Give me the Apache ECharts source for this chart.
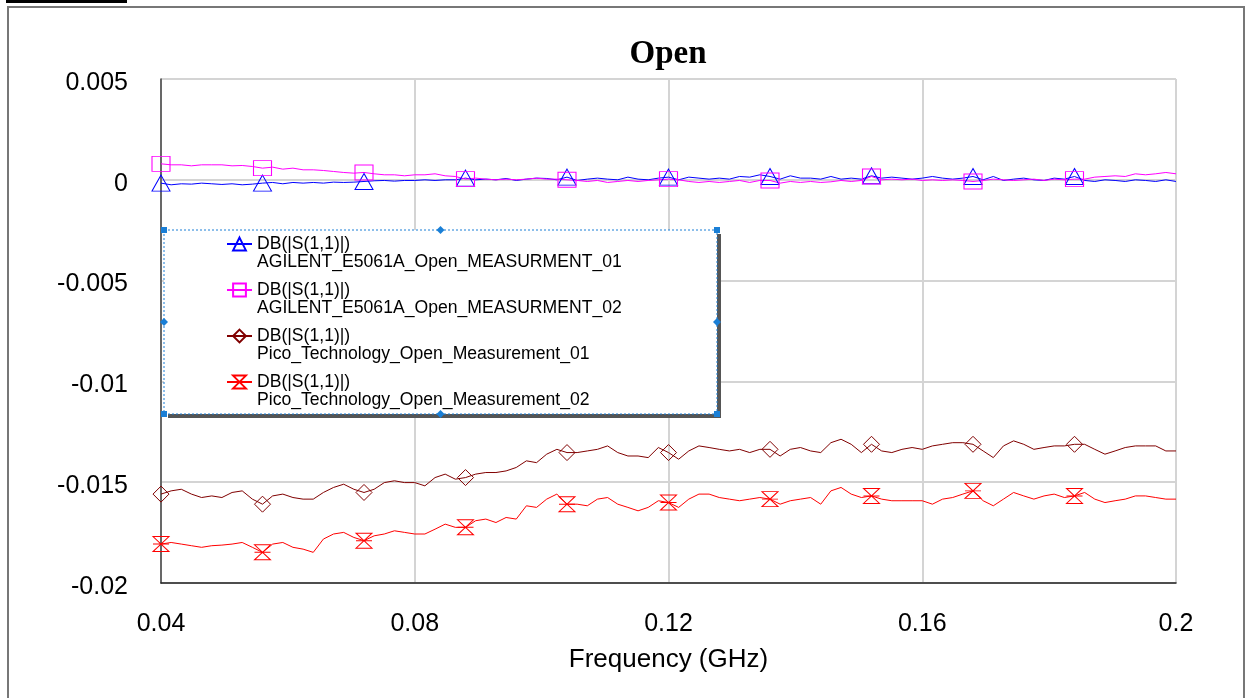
<!DOCTYPE html>
<html>
<head>
<meta charset="utf-8">
<title>Open</title>
<script src="https://cdn.jsdelivr.net/npm/echarts@6/dist/echarts.min.js"></script>
<style>
  html, body { margin: 0; padding: 0; background: #fff; }
  #chart { width: 1247px; height: 698px; }
</style>
</head>
<body>
<div id="chart"></div>
<script>
// frequency sweep, 0.04 .. 0.2 GHz, 101 points
const freqGHz = Array.from({ length: 101 }, (_, i) => +(0.04 + i * 0.0016).toFixed(4));

const xTicks = [0.04, 0.08, 0.12, 0.16, 0.2];
const yTicks = [-0.02, -0.015, -0.01, -0.005, 0, 0.005];

// DB(|S(1,1)|)
const agilent01 = [
  -0.000165, -0.000248, -0.000198, -0.000215, -0.000165, -0.000198, -0.000231, -0.000198, -0.000248, -0.000215,
  -0.000165, -0.000132, -0.000198, -0.000132, -0.000165, -0.000132, -0.000165, -0.000116, -0.000132, -0.000116,
  -0.000083, -0.00005, -0.000033, -0.000066, -0.000033, -0.000033,
  0, -0.000033, 0, 0, 0.000083, 0, 0.000033, 0, 0.000066, -0.000033, 0.000033, 0.000083, 0.000066, 0,
  0.000132, -0.000033, 0.000033, 0.000083, 0.000033, 0, 0.000132, 0.000033, 0, 0.000083, 0.000132, 0,
  0.000132, 0.000083, 0.000033, 0.000083, 0.000033, 0.000165, 0.000132, 0.000248, 0.000165, 0.000033,
  0.000198, 0.000083, 0.000083, 0.000033, 0.000165, 0.000033, 0.000083, 0.000033, 0.000198, 0.000083,
  0.000132, 0.000083, 0.000033, 0.000083, 0.000165, 0.000083,
  0.000033, 0.000083, 0.000165, 0, 0.000165, -0.000033, 0.000033, 0.000083, 0, -0.000033, 0.000083, 0.000033,
  0.000165, -0.000033, -0.000083, 0, -0.000033, -0.000083, 0, -0.000033, -0.000083, 0, -0.000083
];

const agilent02 = [
  0.000792, 0.000743, 0.000743, 0.000693, 0.000743, 0.000743, 0.000743, 0.000693, 0.00071, 0.00066,
  0.000578, 0.000627, 0.000528, 0.000578, 0.000495, 0.000495, 0.000462, 0.000413, 0.000363, 0.00033,
  0.000363, 0.000297, 0.000248, 0.000248, 0.000198, 0.000248,
  0.000248, 0.000297, 0.000198, 0.000165, 0.000033, 0.000083, 0.000033, 0, 0.000033, 0, 0.000033, 0.000083,
  0.000033, 0.000033, 0, -0.000033, -0.000083, -0.000033, -0.000132, -0.000083, -0.000033, -0.000083, -0.000033,
  0, 0.000033, 0,
  -0.000083, -0.000132, -0.000083, -0.000132, -0.000083, -0.000033, -0.000132, -0.000033, -0.000033, -0.000165,
  -0.000083, -0.000132, -0.000083, -0.000132, -0.000099, -0.000033, -0.000083, -0.000033, 0.000165, 0,
  0.000033, 0, 0.000033, -0.000033, 0, -0.000033,
  0, -0.000033, -0.000083, -0.000033, 0.000033, 0, -0.000033, 0, 0.000033, -0.000033, 0.000033, 0,
  0.000033, 0.000033, 0.000132, 0.000165, 0.000198, 0.000165, 0.000297, 0.000248, 0.000297, 0.000363, 0.000297
];

const pico01 = [
  -0.01559, -0.01543, -0.01535, -0.01559, -0.01576, -0.01568, -0.01576, -0.01551, -0.01543, -0.01584,
  -0.01609, -0.01568, -0.01559, -0.01576, -0.01584, -0.01584, -0.01551, -0.01526, -0.0151, -0.01535,
  -0.01551, -0.01535, -0.01502, -0.01493, -0.01502, -0.01502, -0.01518, -0.01477, -0.0146, -0.01485,
  -0.01477, -0.0146, -0.01452, -0.01452, -0.01444, -0.01427, -0.01394, -0.01403, -0.01361, -0.01337,
  -0.01353, -0.01353, -0.01345, -0.01337, -0.0132, -0.01353, -0.0137, -0.0137, -0.01378, -0.01328,
  -0.01353,
  -0.01386, -0.01345, -0.0132, -0.01328, -0.01337, -0.01345, -0.01337, -0.01353, -0.01337, -0.01337,
  -0.0137, -0.01337, -0.01328, -0.01345, -0.01353, -0.01304, -0.01287, -0.01312, -0.01353, -0.01312,
  -0.01345, -0.01353, -0.01337, -0.01328, -0.01337, -0.0132, -0.01312, -0.01304, -0.01304, -0.01312,
  -0.01345, -0.01378, -0.0132, -0.01295, -0.01312, -0.01337, -0.01328, -0.0132, -0.0132, -0.01312,
  -0.01312, -0.01337, -0.01361, -0.01345, -0.01328, -0.0132, -0.0132, -0.0132, -0.01345, -0.01345
];

const pico02 = [
  -0.01807, -0.01799, -0.01807, -0.01815, -0.01823, -0.01815, -0.01812, -0.01807, -0.01799, -0.01823,
  -0.01848, -0.01807, -0.01799, -0.01823, -0.01832, -0.01848, -0.01782, -0.01757, -0.01749, -0.01774,
  -0.0179, -0.01766, -0.01757, -0.01741, -0.01749, -0.01757, -0.01757, -0.01733, -0.01708, -0.01724,
  -0.01724, -0.01691, -0.01683, -0.017, -0.01675, -0.01683, -0.01617, -0.01625, -0.01584, -0.01559,
  -0.01609, -0.01609, -0.01617, -0.01584, -0.01576, -0.01609, -0.01625, -0.01642, -0.01625, -0.01592,
  -0.01601,
  -0.01625, -0.01584, -0.01559, -0.01559, -0.01576, -0.01584, -0.01592, -0.01584, -0.01576, -0.01584,
  -0.01609, -0.01592, -0.01584, -0.01576, -0.01609, -0.01543, -0.01526, -0.01559, -0.01576, -0.01568,
  -0.01584, -0.01592, -0.01592, -0.01592, -0.01592, -0.01609, -0.01584, -0.01576, -0.01559, -0.01543,
  -0.01592, -0.01617, -0.01584, -0.01551, -0.01568, -0.01584, -0.01568, -0.01559, -0.01576, -0.01568,
  -0.01551, -0.01584, -0.01601, -0.01592, -0.01584, -0.01568, -0.01568, -0.01576, -0.01584, -0.01584
];

const hourglass = "path://M0,0 L10,0 L0,10 L10,10 Z M0,5 L10,5";

const traces = [
  { name: "AGILENT_E5061A_Open_MEASURMENT_01", values: agilent01, color: "#0000ff", symbol: "triangle", size: [18, 16] },
  { name: "AGILENT_E5061A_Open_MEASURMENT_02", values: agilent02, color: "#ff00ff", symbol: "rect", size: [18, 15] },
  { name: "Pico_Technology_Open_Measurement_01", values: pico01, color: "#800000", symbol: "diamond", size: [16, 16] },
  { name: "Pico_Technology_Open_Measurement_02", values: pico02, color: "#ff0000", symbol: hourglass, size: [16, 15] },
];

const chart = echarts.init(document.getElementById("chart"));

// markers every 10th sample, none on the last point
const buildData = (values, symbol) =>
  values.map((v, i) => ({
    value: [freqGHz[i], v],
    symbol: i % 10 === 0 && i < 100 ? symbol : "none",
  }));

// legend frame with selection handles
const box = { x: 164, y: 230, w: 553, h: 184 };
const handleColor = "#1a7fd6";
const handles = [];
[[box.x, box.y], [box.x + box.w, box.y], [box.x, box.y + box.h], [box.x + box.w, box.y + box.h]].forEach(([x, y]) => {
  handles.push({ type: "rect", z: 6, shape: { x: x - 3, y: y - 3, width: 6, height: 6 }, style: { fill: handleColor } });
});
[[box.x + box.w / 2, box.y], [box.x + box.w / 2, box.y + box.h], [box.x, box.y + box.h / 2], [box.x + box.w, box.y + box.h / 2]].forEach(([x, y]) => {
  handles.push({
    type: "polygon", z: 6,
    shape: { points: [[x, y - 4], [x + 4, y], [x, y + 4], [x - 4, y]] },
    style: { fill: handleColor },
  });
});

const option = {
  animation: false,
  backgroundColor: "#fff",
  title: {
    text: "Open",
    left: 668,
    top: 38,
    padding: 0,
    textAlign: "center",
    textStyle: { fontFamily: "Liberation Serif", fontWeight: "bold", fontSize: 33, color: "#000" },
  },
  grid: {
    left: 161, right: 71, top: 79, bottom: 115,
    show: true, borderColor: "#444", borderWidth: 1,
  },
  legend: {
    z: 10,
    orient: "vertical",
    left: 226,
    top: 217,
    padding: 0,
    itemGap: -8,
    itemWidth: 25,
    itemHeight: 16,
    selectedMode: false,
    data: traces.map((t) => t.name),
    formatter: (name) => " \nDB(|S(1,1)|)\n" + name,
    textStyle: { fontFamily: "Liberation Sans", fontSize: 17.6, lineHeight: 18, color: "#000" },
  },
  xAxis: {
    type: "value",
    min: xTicks[0],
    max: xTicks[xTicks.length - 1],
    interval: 0.04,
    name: "Frequency (GHz)",
    nameLocation: "middle",
    nameGap: 64,
    nameTextStyle: { fontFamily: "Liberation Sans", fontSize: 26, color: "#000" },
    axisLine: { onZero: false, lineStyle: { color: "#222", width: 1.5 } },
    axisTick: { show: false },
    axisLabel: {
      margin: 29,
      fontFamily: "Liberation Sans",
      fontSize: 25,
      color: "#000",
      formatter: (v) => String(+v.toFixed(2)),
    },
    splitLine: { show: true, lineStyle: { color: "#d4d4d4", width: 2 } },
  },
  yAxis: {
    type: "value",
    min: yTicks[0],
    max: yTicks[yTicks.length - 1],
    interval: 0.005,
    axisLine: { onZero: false, lineStyle: { color: "#444", width: 1.5 } },
    axisTick: { show: false },
    axisLabel: {
      margin: 33,
      verticalAlign: "top",
      lineHeight: 8,
      fontFamily: "Liberation Sans",
      fontSize: 25,
      color: "#000",
      formatter: (v) => String(+v.toFixed(3)),
    },
    splitLine: { show: true, lineStyle: { color: "#d4d4d4", width: 2 } },
  },
  graphic: [
    // outer frame and the black tab at the top left
    { type: "rect", z: 0, shape: { x: 8, y: 7, width: 1236, height: 720 }, style: { fill: "none", stroke: "#777", lineWidth: 2 } },
    { type: "rect", z: 0, shape: { x: 6, y: 0, width: 121, height: 3 }, style: { fill: "#000" } },
    // legend drop shadow, then the dashed frame
    { type: "rect", z: 5, shape: { x: box.x + 4, y: box.y + 4, width: box.w, height: box.h }, style: { fill: "#555" } },
    {
      type: "rect", z: 5,
      shape: { x: box.x, y: box.y, width: box.w, height: box.h },
      style: { fill: "#fff", stroke: handleColor, lineWidth: 1, lineDash: [2, 2] },
    },
    ...handles,
  ],
  series: traces.map((t) => ({
    name: t.name,
    type: "line",
    data: buildData(t.values, t.symbol),
    symbol: t.symbol,
    symbolSize: t.size,
    clip: true,
    lineStyle: { color: t.color, width: 1 },
    itemStyle: { color: "rgba(0,0,0,0)", borderColor: t.color, borderWidth: 1 },
    emphasis: { disabled: true },
  })),
};

chart.setOption(option);
</script>
</body>
</html>
